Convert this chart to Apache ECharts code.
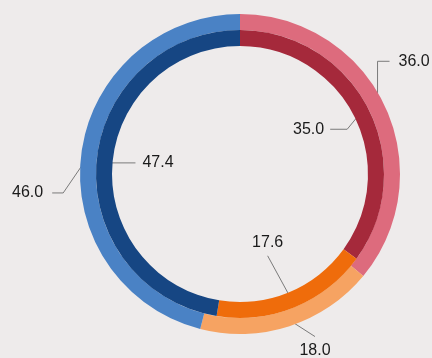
<!DOCTYPE html>
<html><head><meta charset="utf-8">
<script src="https://cdn.jsdelivr.net/npm/echarts@6/dist/echarts.min.js"></script>
<style>html,body{margin:0;padding:0;background:#eeebeb}#c{width:432px;height:358px}</style>
</head><body><div id="c"></div>
<script>
const categories = ['A', 'B', 'C'];
const outerValues = [36.0, 18.0, 46.0];
const innerValues = [35.0, 17.6, 47.4];
const outerColors = ['#dd6b7d', '#f6a362', '#4a82c5'];
const innerColors = ['#a5293b', '#ef6c0b', '#164683'];

const CX = 240, CY = 174;
const OUTER_R = [144, 160], INNER_R = [128, 144];

// leader-line styling per label (offsets relative to the slice anchor)
const outerLeaders = [
  {elbow: [0, -48], run: 12, align: 'left', vAlign: 'middle', gap: 9},
  {elbow: [28, 18], run: 0, align: 'center', vAlign: 'top', gap: 6},
  {elbow: [-26, 38], run: -11, align: 'right', vAlign: 'middle', gap: 9}
];
const innerLeaders = [
  {elbow: [-14, 17], run: -17, align: 'right', vAlign: 'middle', gap: 6},
  {elbow: [-24, -44], run: 0, align: 'center', vAlign: 'bottom', gap: 5},
  {elbow: [0, 0], run: 31, align: 'left', vAlign: 'middle', gap: 7}
];

function makeLayout(values, radius, leaders) {
  const total = values.reduce((a, b) => a + b, 0);
  const rMid = (radius[0] + radius[1]) / 2;
  return function (params) {
    const i = params.dataIndex;
    let cum = 0;
    for (let k = 0; k < i; k++) cum += values[k];
    const theta = (cum + values[i] / 2) / total * Math.PI * 2;
    const ax = CX + rMid * Math.sin(theta);
    const ay = CY - rMid * Math.cos(theta);
    const L = leaders[i];
    const ex = ax + L.elbow[0], ey = ay + L.elbow[1];
    const fx = ex + L.run, fy = ey;
    let tx = fx, ty = fy;
    if (L.vAlign === 'middle') tx = fx + (L.run >= 0 ? L.gap : -L.gap);
    else if (L.vAlign === 'top') ty = fy + L.gap;
    else ty = fy - L.gap;
    return {
      x: tx, y: ty, align: L.align, verticalAlign: L.vAlign,
      labelLinePoints: [[ax, ay], [ex, ey], [fx, fy]]
    };
  };
}

function makeSeries(values, colors, radius, leaders) {
  return {
    type: 'pie',
    center: [CX, CY],
    radius: radius,
    startAngle: 90,
    clockwise: true,
    avoidLabelOverlap: false,
    itemStyle: {borderWidth: 0},
    label: {
      show: true, position: 'outside',
      formatter: p => p.value.toFixed(1),
      color: '#1a1a1a', fontSize: 16, fontFamily: 'Liberation Sans, Arial, sans-serif'
    },
    labelLine: {show: true, smooth: false, lineStyle: {color: '#7a7a7a', width: 1}},
    labelLayout: makeLayout(values, radius, leaders),
    emphasis: {disabled: true},
    data: values.map((v, i) => ({name: categories[i], value: v, itemStyle: {color: colors[i]}}))
  };
}

const chart = echarts.init(document.getElementById('c'));
chart.setOption({
  backgroundColor: '#eeebeb',
  animation: false,
  series: [
    makeSeries(outerValues, outerColors, OUTER_R, outerLeaders),
    makeSeries(innerValues, innerColors, INNER_R, innerLeaders)
  ]
});
</script>
</body></html>
